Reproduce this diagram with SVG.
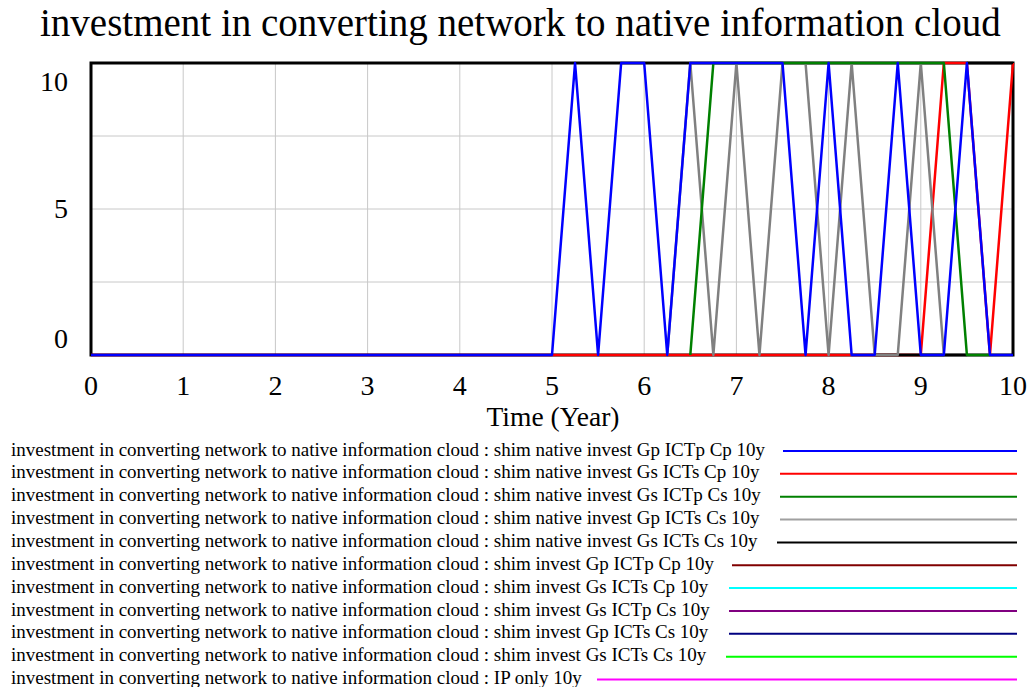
<svg xmlns="http://www.w3.org/2000/svg" width="1029" height="687" viewBox="0 0 1029 687">
<style>
text{font-family:"Liberation Serif","Times New Roman",serif;fill:#000}
.title{font-size:39px}
.tick{font-size:28px}
.axis{font-size:27.5px}
.leg{font-size:19px}
.grid{stroke:#c8c8c8;stroke-width:1;fill:none}
.frame{stroke:#000;stroke-width:3;fill:none}
.s{fill:none;stroke-width:2.5;stroke-linejoin:round}
.ll{stroke-width:2}
</style>
<rect width="1029" height="687" fill="#fff"/>
<g id="title"><text class="title" x="40" y="36">investment in converting network to native information cloud</text></g>
<g id="plot">
<g id="grid">
<path class="grid" d="M183.2 63V355M275.4 63V355M367.6 63V355M459.8 63V355M552 63V355M644.2 63V355M736.4 63V355M828.6 63V355M920.8 63V355M91 136H1013M91 209H1013M91 282H1013"/>
</g>
<rect id="frame" class="frame" x="91" y="63" width="922" height="292"/>
<g id="yaxis">
<text class="tick" x="68" y="91" text-anchor="end">10</text>
<text class="tick" x="68" y="218" text-anchor="end">5</text>
<text class="tick" x="68" y="348" text-anchor="end">0</text>
</g>
<g id="xaxis" text-anchor="middle">
<text class="tick" x="91" y="395">0</text>
<text class="tick" x="183.2" y="395">1</text>
<text class="tick" x="275.4" y="395">2</text>
<text class="tick" x="367.6" y="395">3</text>
<text class="tick" x="459.8" y="395">4</text>
<text class="tick" x="552" y="395">5</text>
<text class="tick" x="644.2" y="395">6</text>
<text class="tick" x="736.4" y="395">7</text>
<text class="tick" x="828.6" y="395">8</text>
<text class="tick" x="920.8" y="395">9</text>
<text class="tick" x="1013" y="395">10</text>
<text class="axis" x="553" y="426">Time (Year)</text>
</g>
<g id="series">
<polyline id="s-red" class="s" stroke="#ff0000" points="91,355 920.8,355 943.85,63 966.9,63 989.95,355 1013,63"/>
<path id="s-black" class="s" stroke="#000000" d="M874.7 355H966.9M966.9 63H1013"/>
<polyline id="s-gray" class="s" stroke="#808080" stroke-width="2.2" points="667.25,355 690.3,63 713.35,355 736.4,63 759.45,355 782.5,63 805.55,63 828.6,355 851.65,63 874.7,355 897.75,355 920.8,63 943.85,355"/>
<polyline id="s-green" class="s" stroke="#008000" stroke-width="2.2" points="690.3,355 713.35,63 943.85,63 966.9,355 989.95,355"/>
<polyline id="s-blue" class="s" stroke="#0000ff" points="91,355 552,355 575.05,63 598.1,355 621.15,63 644.2,63 667.25,355 690.3,63 782.5,63 805.55,355 828.6,63 851.65,355 874.7,355 897.75,63 920.8,355 943.85,355 966.9,63 989.95,355 1013,355"/>
</g>
</g>
<g id="legend">
<g id="leg1"><text class="leg" x="11" y="455.5">investment in converting network to native information cloud : shim native invest Gp ICTp Cp 10y</text><line class="ll" x1="783" y1="451" x2="1017" y2="451" stroke="#0000ff"/></g>
<g id="leg2"><text class="leg" x="11" y="478.3">investment in converting network to native information cloud : shim native invest Gs ICTs Cp 10y</text><line class="ll" x1="780" y1="473.8" x2="1017" y2="473.8" stroke="#ff0000"/></g>
<g id="leg3"><text class="leg" x="11" y="501.2">investment in converting network to native information cloud : shim native invest Gs ICTp Cs 10y</text><line class="ll" x1="780" y1="496.7" x2="1017" y2="496.7" stroke="#008000"/></g>
<g id="leg4"><text class="leg" x="11" y="524">investment in converting network to native information cloud : shim native invest Gp ICTs Cs 10y</text><line class="ll" x1="780" y1="519.5" x2="1017" y2="519.5" stroke="#a0a0a0"/></g>
<g id="leg5"><text class="leg" x="11" y="546.9">investment in converting network to native information cloud : shim native invest Gs ICTs Cs 10y</text><line class="ll" x1="777" y1="542.4" x2="1017" y2="542.4" stroke="#000000"/></g>
<g id="leg6"><text class="leg" x="11" y="569.8">investment in converting network to native information cloud : shim invest Gp ICTp Cp 10y</text><line class="ll" x1="732" y1="565.3" x2="1017" y2="565.3" stroke="#800000"/></g>
<g id="leg7"><text class="leg" x="11" y="592.6">investment in converting network to native information cloud : shim invest Gs ICTs Cp 10y</text><line class="ll" x1="729" y1="588.1" x2="1017" y2="588.1" stroke="#00ffff"/></g>
<g id="leg8"><text class="leg" x="11" y="615.5">investment in converting network to native information cloud : shim invest Gs ICTp Cs 10y</text><line class="ll" x1="729" y1="611" x2="1017" y2="611" stroke="#800080"/></g>
<g id="leg9"><text class="leg" x="11" y="638.3">investment in converting network to native information cloud : shim invest Gp ICTs Cs 10y</text><line class="ll" x1="729" y1="633.8" x2="1017" y2="633.8" stroke="#000080"/></g>
<g id="leg10"><text class="leg" x="11" y="661.2">investment in converting network to native information cloud : shim invest Gs ICTs Cs 10y</text><line class="ll" x1="726" y1="656.7" x2="1017" y2="656.7" stroke="#00ff00"/></g>
<g id="leg11"><text class="leg" x="11" y="684">investment in converting network to native information cloud : IP only 10y</text><line class="ll" x1="597" y1="679.5" x2="1017" y2="679.5" stroke="#ff00ff"/></g>
</g>
</svg>
